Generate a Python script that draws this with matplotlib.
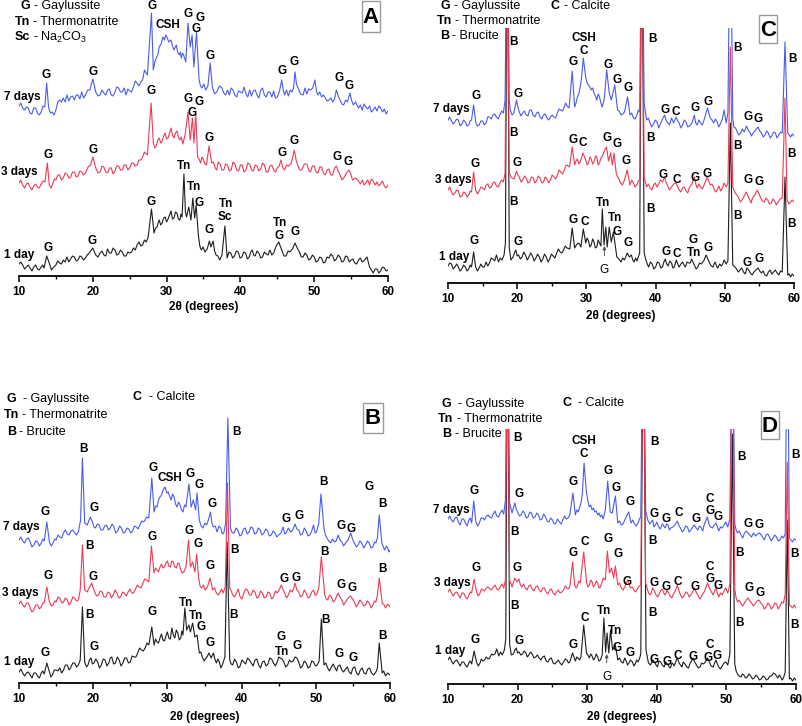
import matplotlib
matplotlib.use("Agg")
import matplotlib.pyplot as plt
from matplotlib.patches import Rectangle
from matplotlib.ticker import MultipleLocator

plt.rcParams["font.family"] = ["Liberation Sans", "DejaVu Sans"]
plt.rcParams["mathtext.fontset"] = "custom"
plt.rcParams["mathtext.rm"] = "Liberation Sans"
plt.rcParams["mathtext.it"] = "Liberation Sans:italic"
plt.rcParams["mathtext.bf"] = "Liberation Sans:bold"

W, H = 803, 726

# ---- XRD traces: (2theta, stacked intensity in a.u.) ----
# Panel A
a_7d = [(10.0,170),(10.25,173),(10.5,168),(10.75,166),(11.0,169),(11.25,168),(11.5,163),(11.75,162),(12.0,168),(12.25,168),(12.5,163),(12.75,161),(13.0,164),(13.25,170),(13.5,169),(13.75,193),(14.0,169),(14.25,163),(14.5,164),(14.75,161),(15.0,166),(15.25,174),(15.5,176),(15.75,174),(16.0,178),(16.25,174),(16.5,181),(16.75,175),(17.0,179),(17.25,180),(17.5,176),(17.75,181),(18.0,181),(18.25,177),(18.5,184),(18.75,178),(19.0,181),(19.3,186),(19.6,186),(20.0,197),(20.4,184),(20.7,180),(21.0,181),(21.25,186),(21.5,183),(21.75,181),(22.0,186),(22.25,187),(22.5,181),(22.75,180),(23.0,184),(23.25,189),(23.5,188),(23.75,184),(24.0,184),(24.25,188),(24.5,181),(24.75,187),(25.0,185),(25.25,184),(25.5,189),(25.75,195),(26.0,193),(26.25,190),(26.5,194),(26.75,196),(27.0,206),(27.4,201),(27.95,263),(28.2,206),(28.4,214),(28.6,218),(28.8,221),(29.0,229),(29.25,232),(29.5,239),(29.7,236),(29.9,241),(30.1,238),(30.3,234),(30.6,236),(30.8,230),(31.0,226),(31.3,231),(31.5,224),(31.7,221),(31.85,224),(32.0,218),(32.15,223),(32.3,221),(32.6,214),(32.9,253),(33.2,229),(33.45,241),(33.7,209),(34.05,244),(34.4,196),(34.6,190),(34.8,188),(35.05,192),(35.3,186),(35.6,190),(35.9,213),(36.2,189),(36.5,182),(36.8,184),(37.15,190),(37.5,188),(37.75,183),(38.0,181),(38.25,186),(38.5,181),(38.75,188),(39.0,186),(39.25,181),(39.5,179),(39.75,185),(40.0,184),(40.25,183),(40.5,189),(40.75,182),(41.0,179),(41.25,186),(41.5,180),(41.75,185),(42.0,186),(42.25,181),(42.5,178),(42.75,186),(43.0,188),(43.25,181),(43.5,179),(43.75,184),(44.0,184),(44.25,179),(44.5,185),(44.75,178),(45.0,179),(45.3,185),(45.6,196),(45.8,186),(46.0,181),(46.25,186),(46.5,180),(46.75,186),(47.0,184),(47.2,188),(47.4,204),(47.6,192),(47.8,188),(48.15,182),(48.5,181),(48.75,188),(49.0,182),(49.25,187),(49.5,186),(49.8,188),(50.1,196),(50.3,185),(50.5,181),(50.75,184),(51.0,179),(51.25,181),(51.5,178),(51.75,175),(52.0,176),(52.25,178),(52.5,174),(52.75,177),(53.0,186),(53.25,180),(53.5,176),(53.75,172),(54.0,171),(54.25,176),(54.5,174),(54.85,183),(55.05,176),(55.3,171),(55.6,174),(56.0,168),(56.25,171),(56.5,166),(56.75,172),(57.0,169),(57.25,167),(57.5,170),(57.75,164),(58.0,166),(58.25,169),(58.5,165),(58.75,170),(59.0,168),(59.25,164),(59.5,167),(59.75,162),(60.0,165)]
a_3d = [(10.0,93),(10.25,96),(10.5,91),(10.75,88),(11.0,92),(11.25,93),(11.5,89),(11.75,86),(12.0,90),(12.25,92),(12.5,89),(12.75,88),(13.0,92),(13.25,95),(13.5,94),(13.85,113),(14.1,91),(14.35,88),(14.6,93),(14.8,97),(15.0,96),(15.25,101),(15.5,101),(15.75,96),(16.0,98),(16.25,103),(16.5,102),(16.75,98),(17.0,99),(17.25,104),(17.5,104),(17.75,99),(18.0,100),(18.25,105),(18.5,104),(18.75,101),(19.0,103),(19.35,109),(19.7,111),(20.0,119),(20.4,108),(20.7,103),(21.0,104),(21.25,110),(21.5,109),(21.75,104),(22.0,103),(22.25,108),(22.5,108),(22.75,102),(23.0,105),(23.25,110),(23.5,110),(23.75,106),(24.0,106),(24.25,111),(24.5,111),(24.75,106),(25.0,108),(25.25,113),(25.5,113),(25.75,110),(26.0,111),(26.25,116),(26.5,116),(26.75,119),(27.0,124),(27.4,121),(27.9,173),(28.2,133),(28.4,128),(28.6,130),(28.8,136),(29.0,138),(29.2,133),(29.4,135),(29.6,140),(29.8,143),(30.0,137),(30.2,138),(30.4,143),(30.6,148),(30.8,141),(31.0,138),(31.2,143),(31.4,145),(31.6,139),(31.8,136),(32.0,139),(32.2,132),(32.5,141),(32.9,164),(33.2,136),(33.5,158),(33.7,133),(33.95,162),(34.2,119),(34.4,117),(34.6,113),(34.8,119),(35.0,116),(35.2,112),(35.4,111),(35.75,130),(36.1,113),(36.35,114),(36.6,108),(36.8,106),(37.0,114),(37.25,112),(37.5,106),(37.75,106),(38.0,112),(38.25,111),(38.5,105),(38.75,106),(39.0,114),(39.25,112),(39.5,106),(39.75,105),(40.0,111),(40.25,111),(40.5,104),(40.75,106),(41.0,113),(41.25,112),(41.5,106),(41.75,105),(42.0,111),(42.25,110),(42.5,105),(42.75,107),(43.0,113),(43.25,111),(43.5,104),(43.75,104),(44.0,110),(44.25,111),(44.5,106),(44.75,104),(45.0,108),(45.25,110),(45.5,116),(45.75,108),(46.0,106),(46.25,111),(46.5,110),(46.9,113),(47.3,126),(47.55,116),(47.8,110),(48.05,106),(48.3,106),(48.65,112),(49.0,112),(49.25,106),(49.5,104),(49.75,110),(50.0,110),(50.25,104),(50.5,103),(50.75,109),(51.0,109),(51.25,103),(51.5,101),(51.75,106),(52.0,107),(52.25,101),(52.5,101),(52.75,108),(53.0,110),(53.25,105),(53.5,101),(53.75,96),(54.0,98),(54.35,103),(54.7,106),(54.95,102),(55.2,96),(55.6,98),(56.0,95),(56.25,92),(56.5,96),(56.75,91),(57.0,93),(57.25,96),(57.5,91),(57.75,97),(58.0,95),(58.25,91),(58.5,94),(58.75,90),(59.0,92),(59.25,95),(59.5,90),(59.75,88),(60.0,91)]
a_1d = [(10.0,12),(10.25,14),(10.5,11),(10.75,7),(11.0,9),(11.25,11),(11.5,8),(11.75,5),(12.0,9),(12.25,11),(12.5,7),(12.75,6),(13.0,9),(13.2,11),(13.4,8),(13.75,20),(14.1,13),(14.4,6),(14.7,9),(15.0,11),(15.25,15),(15.5,13),(15.75,12),(16.0,16),(16.25,14),(16.5,19),(16.75,14),(17.0,17),(17.25,20),(17.5,19),(17.75,15),(18.0,16),(18.25,20),(18.5,19),(18.75,16),(19.0,18),(19.25,21),(19.5,23),(20.0,28),(20.4,21),(20.7,19),(21.0,23),(21.25,25),(21.5,21),(21.75,20),(22.0,27),(22.25,23),(22.5,23),(22.75,28),(23.0,26),(23.25,21),(23.5,22),(23.75,26),(24.0,24),(24.25,20),(24.5,20),(24.75,24),(25.0,23),(25.25,24),(25.5,28),(25.75,26),(26.0,31),(26.25,34),(26.5,30),(26.75,31),(27.0,36),(27.25,34),(27.5,39),(27.95,67),(28.3,43),(28.5,48),(28.7,49),(28.85,53),(29.0,56),(29.2,51),(29.4,53),(29.6,58),(29.8,59),(30.0,54),(30.2,57),(30.4,61),(30.6,65),(30.8,57),(31.0,58),(31.2,64),(31.4,63),(31.6,57),(31.8,56),(31.95,62),(32.1,59),(32.35,102),(32.55,64),(32.7,59),(33.0,69),(33.3,56),(33.55,78),(33.8,58),(34.0,71),(34.3,41),(34.5,30),(34.7,26),(34.95,29),(35.2,24),(35.5,27),(35.8,35),(36.0,29),(36.3,35),(36.5,25),(36.7,21),(36.95,20),(37.2,16),(37.5,21),(37.9,50),(38.2,18),(38.45,24),(38.7,23),(38.95,18),(39.2,20),(39.45,25),(39.7,24),(39.95,18),(40.2,19),(40.45,24),(40.7,23),(40.95,17),(41.2,19),(41.4,24),(41.6,26),(41.8,21),(42.0,20),(42.25,25),(42.5,23),(42.75,18),(43.0,19),(43.25,24),(43.5,22),(43.75,21),(44.0,26),(44.25,21),(44.5,23),(44.85,30),(45.2,34),(45.4,30),(45.6,26),(45.9,20),(46.2,20),(46.45,25),(46.7,24),(47.05,27),(47.4,33),(47.7,28),(48.0,24),(48.25,19),(48.5,19),(48.75,23),(49.0,21),(49.25,16),(49.5,17),(49.75,21),(50.0,19),(50.25,14),(50.5,15),(50.75,19),(51.0,18),(51.25,13),(51.5,14),(51.75,19),(52.0,18),(52.25,22),(52.5,20),(52.75,15),(53.0,17),(53.25,21),(53.5,19),(53.75,14),(54.0,15),(54.25,20),(54.5,19),(54.75,14),(55.0,16),(55.25,17),(55.5,13),(55.75,12),(56.0,16),(56.25,18),(56.5,14),(56.85,16),(57.15,19),(57.5,9),(58.0,3),(58.25,7),(58.5,7),(58.75,3),(59.0,5),(59.25,9),(59.5,8),(59.75,5),(60.0,6)]

# Panel B
b_7d = [(10.0,143),(10.25,146),(10.5,142),(10.75,140),(11.0,144),(11.25,145),(11.5,141),(11.75,136),(12.0,138),(12.25,142),(12.5,141),(12.75,137),(13.0,140),(13.2,144),(13.4,142),(13.75,161),(14.1,141),(14.35,137),(14.6,140),(14.8,144),(15.0,143),(15.25,148),(15.5,146),(15.75,145),(16.0,150),(16.25,153),(16.5,149),(16.75,148),(17.0,152),(17.25,153),(17.5,150),(17.75,148),(18.0,151),(18.3,163),(18.55,225),(18.85,160),(19.2,158),(19.6,166),(19.9,161),(20.1,156),(20.3,155),(20.55,159),(20.8,158),(21.05,153),(21.3,153),(21.55,157),(21.8,158),(22.05,153),(22.3,155),(22.55,159),(22.8,156),(23.05,150),(23.3,152),(23.55,157),(23.8,155),(24.05,150),(24.3,151),(24.55,155),(24.8,154),(25.05,150),(25.3,152),(25.55,157),(25.8,156),(26.05,154),(26.3,158),(26.55,162),(26.8,161),(27.0,163),(27.2,166),(27.5,165),(27.9,205),(28.2,171),(28.4,177),(28.6,176),(28.8,183),(29.0,186),(29.2,188),(29.4,193),(29.7,196),(29.9,190),(30.1,191),(30.3,187),(30.5,183),(30.7,189),(30.9,186),(31.1,179),(31.3,176),(31.5,181),(31.7,178),(31.9,173),(32.1,171),(32.3,178),(32.5,176),(32.9,199),(33.2,176),(33.5,183),(33.8,173),(34.0,190),(34.3,163),(34.55,157),(34.8,155),(35.05,160),(35.3,158),(35.55,164),(35.8,171),(36.0,160),(36.2,156),(36.45,157),(36.7,151),(36.95,157),(37.2,155),(37.4,149),(37.6,150),(37.85,160),(38.15,265),(38.5,155),(38.75,150),(39.0,150),(39.25,155),(39.5,153),(39.75,147),(40.0,148),(40.25,154),(40.5,155),(40.75,149),(41.0,151),(41.25,156),(41.5,155),(41.75,149),(42.0,150),(42.25,155),(42.5,153),(42.75,148),(43.0,150),(43.25,154),(43.5,152),(43.75,147),(44.0,148),(44.25,152),(44.5,150),(44.75,146),(45.0,148),(45.3,150),(45.6,156),(45.8,149),(46.0,150),(46.3,155),(46.6,151),(46.9,153),(47.2,159),(47.45,154),(47.7,153),(47.95,148),(48.2,149),(48.45,155),(48.7,152),(48.95,147),(49.2,148),(49.45,152),(49.7,158),(49.9,150),(50.1,151),(50.4,160),(50.7,189),(51.1,155),(51.3,148),(51.5,145),(51.75,142),(52.0,140),(52.25,144),(52.5,141),(52.75,142),(53.0,148),(53.25,143),(53.5,141),(53.75,137),(54.0,140),(54.35,143),(54.7,150),(54.95,144),(55.2,140),(55.45,136),(55.7,138),(55.95,142),(56.2,140),(56.45,135),(56.7,138),(56.95,142),(57.2,140),(57.45,135),(57.7,136),(57.9,141),(58.1,140),(58.3,145),(58.55,168),(58.9,140),(59.1,136),(59.3,133),(59.5,137),(59.7,135),(59.85,131),(60.0,133)]
b_3d = [(10.0,79),(10.25,82),(10.5,78),(10.75,76),(11.0,80),(11.25,80),(11.5,75),(11.75,71),(12.0,73),(12.25,78),(12.5,78),(12.75,74),(13.0,76),(13.2,80),(13.4,80),(13.75,96),(14.1,81),(14.35,77),(14.6,78),(14.8,82),(15.0,81),(15.25,86),(15.5,85),(15.75,80),(16.0,81),(16.25,85),(16.5,83),(16.75,78),(17.0,81),(17.25,86),(17.5,85),(17.75,82),(18.0,83),(18.25,93),(18.55,138),(18.85,93),(19.2,91),(19.5,96),(19.8,100),(20.0,95),(20.2,91),(20.45,87),(20.7,88),(20.95,92),(21.2,91),(21.45,86),(21.7,86),(21.95,91),(22.2,90),(22.45,85),(22.7,88),(22.95,93),(23.2,90),(23.45,85),(23.7,86),(23.95,91),(24.2,90),(24.45,87),(24.7,91),(24.95,94),(25.2,90),(25.45,90),(25.7,94),(25.95,98),(26.2,96),(26.45,95),(26.7,100),(26.95,104),(27.2,103),(27.5,101),(27.85,137),(28.2,110),(28.4,115),(28.6,113),(28.8,111),(29.0,116),(29.2,119),(29.4,115),(29.6,116),(29.8,120),(30.0,122),(30.2,117),(30.4,116),(30.6,122),(30.8,121),(31.0,116),(31.2,115),(31.4,120),(31.6,119),(31.8,113),(32.0,110),(32.2,111),(32.5,116),(32.85,143),(33.1,116),(33.4,121),(33.7,111),(33.95,129),(34.2,106),(34.4,97),(34.6,95),(34.85,98),(35.1,93),(35.4,96),(35.75,105),(36.1,93),(36.35,95),(36.6,90),(36.85,88),(37.1,91),(37.3,94),(37.5,90),(37.8,96),(38.1,200),(38.4,95),(38.6,92),(38.8,88),(39.05,86),(39.3,90),(39.55,94),(39.8,86),(40.05,84),(40.3,90),(40.55,94),(40.8,93),(41.05,88),(41.3,88),(41.55,93),(41.8,91),(42.05,85),(42.3,86),(42.55,92),(42.8,90),(43.05,85),(43.3,86),(43.55,91),(43.8,90),(44.05,84),(44.3,86),(44.55,92),(44.8,90),(45.05,93),(45.35,98),(45.6,93),(45.8,90),(46.05,85),(46.3,88),(46.55,93),(46.8,91),(47.0,94),(47.2,100),(47.45,93),(47.7,91),(47.95,86),(48.2,88),(48.45,93),(48.7,90),(48.95,85),(49.2,86),(49.45,91),(49.7,93),(49.9,88),(50.1,88),(50.4,95),(50.75,126),(51.2,88),(51.4,84),(51.6,83),(51.85,88),(52.1,86),(52.35,81),(52.6,83),(52.8,87),(53.0,90),(53.25,86),(53.5,83),(53.75,78),(54.0,81),(54.35,85),(54.7,87),(54.95,84),(55.2,81),(55.45,76),(55.7,79),(55.95,83),(56.2,81),(56.45,77),(56.7,78),(56.95,82),(57.2,80),(57.45,75),(57.7,78),(57.9,82),(58.1,81),(58.3,88),(58.55,105),(58.95,80),(59.2,78),(59.4,75),(59.7,79),(60.0,76)]
b_1d = [(10.0,11),(10.25,14),(10.5,10),(10.75,7),(11.0,10),(11.25,11),(11.5,8),(11.75,5),(12.0,10),(12.25,10),(12.5,7),(12.75,5),(13.0,10),(13.2,12),(13.4,9),(13.75,20),(14.1,11),(14.3,6),(14.5,8),(14.75,13),(15.0,13),(15.25,12),(15.5,15),(15.75,10),(16.0,13),(16.25,18),(16.5,18),(16.75,13),(17.0,16),(17.25,20),(17.5,20),(17.75,16),(18.0,18),(18.25,23),(18.55,76),(18.85,21),(19.1,16),(19.3,18),(19.5,23),(19.7,25),(19.9,19),(20.1,20),(20.35,24),(20.6,21),(20.85,15),(21.1,18),(21.35,24),(21.6,23),(21.85,17),(22.1,20),(22.3,25),(22.5,26),(22.75,19),(23.0,20),(23.25,26),(23.5,23),(23.75,17),(24.0,20),(24.25,25),(24.5,25),(24.75,20),(25.0,21),(25.25,27),(25.5,26),(25.75,26),(26.0,30),(26.25,35),(26.5,33),(26.75,32),(27.0,35),(27.25,40),(27.5,38),(27.9,56),(28.2,38),(28.4,44),(28.6,41),(28.8,40),(29.0,45),(29.2,49),(29.4,43),(29.6,42),(29.8,47),(30.0,51),(30.2,45),(30.4,44),(30.6,55),(30.8,48),(31.0,45),(31.2,53),(31.4,50),(31.6,43),(31.8,45),(31.95,52),(32.1,48),(32.35,75),(32.6,53),(32.9,58),(33.1,51),(33.4,60),(33.7,46),(34.0,48),(34.3,30),(34.5,31),(34.7,26),(34.95,22),(35.2,25),(35.4,27),(35.6,30),(35.9,25),(36.2,30),(36.4,24),(36.6,20),(36.8,24),(37.0,21),(37.2,15),(37.4,18),(37.75,26),(38.05,141),(38.4,23),(38.6,19),(38.8,18),(39.05,24),(39.3,21),(39.55,15),(39.8,17),(40.05,23),(40.3,21),(40.55,19),(40.8,25),(41.05,23),(41.3,20),(41.55,17),(41.8,23),(42.05,24),(42.3,18),(42.55,15),(42.8,21),(43.05,22),(43.3,17),(43.55,19),(43.8,25),(44.05,24),(44.3,20),(44.55,17),(44.8,21),(45.0,26),(45.2,25),(45.45,24),(45.7,21),(45.95,16),(46.2,18),(46.45,23),(46.7,21),(46.95,22),(47.2,26),(47.45,25),(47.7,21),(47.95,15),(48.2,17),(48.45,22),(48.7,20),(48.95,15),(49.2,16),(49.45,22),(49.7,21),(49.95,17),(50.2,18),(50.45,22),(50.75,64),(51.1,18),(51.35,20),(51.6,15),(51.85,12),(52.1,16),(52.35,19),(52.6,15),(52.8,12),(53.0,17),(53.25,18),(53.5,13),(53.75,11),(54.0,14),(54.25,16),(54.5,11),(54.75,9),(55.0,15),(55.25,16),(55.5,10),(55.75,8),(56.0,13),(56.25,15),(56.5,10),(56.75,9),(57.0,14),(57.25,15),(57.5,10),(57.8,8),(58.1,11),(58.3,15),(58.55,40),(58.95,10),(59.15,12),(59.4,7),(59.7,10),(60.0,8)]

# Panel C (brucite peaks run off the top of the frame)
c_7d = [(10.0,163),(10.25,166),(10.5,162),(10.75,159),(11.0,161),(11.25,164),(11.5,163),(11.75,157),(12.0,159),(12.25,163),(12.5,161),(12.75,157),(13.0,158),(13.2,162),(13.4,163),(13.7,178),(14.0,161),(14.25,157),(14.5,158),(14.75,162),(15.0,162),(15.25,158),(15.5,160),(15.75,166),(16.0,166),(16.25,164),(16.5,168),(16.75,169),(17.0,166),(17.25,164),(17.5,168),(17.75,172),(18.0,170),(18.25,183),(18.55,400),(18.85,183),(19.0,173),(19.25,168),(19.5,170),(19.7,176),(19.9,183),(20.1,176),(20.3,171),(20.55,167),(20.8,170),(21.05,172),(21.3,168),(21.55,167),(21.8,173),(22.05,173),(22.3,168),(22.55,166),(22.8,170),(23.05,171),(23.3,166),(23.55,164),(23.8,168),(24.05,169),(24.3,165),(24.55,163),(24.8,166),(25.05,168),(25.3,166),(25.55,165),(25.8,170),(26.05,174),(26.3,173),(26.55,172),(26.8,176),(27.0,180),(27.2,177),(27.5,175),(27.95,212),(28.3,176),(28.5,180),(28.7,186),(28.9,189),(29.1,196),(29.3,205),(29.55,225),(29.9,206),(30.1,200),(30.3,198),(30.5,196),(30.7,193),(30.9,195),(31.1,190),(31.3,187),(31.5,183),(31.7,189),(31.9,186),(32.1,180),(32.3,176),(32.6,185),(32.93,213),(33.3,190),(33.6,183),(34.1,198),(34.5,173),(34.75,172),(35.0,168),(35.25,169),(35.5,171),(35.95,186),(36.3,168),(36.55,170),(36.8,165),(37.05,164),(37.3,168),(37.5,173),(37.7,171),(38.0,400),(38.35,180),(38.7,163),(38.95,165),(39.2,160),(39.45,156),(39.7,159),(39.95,163),(40.2,161),(40.45,155),(40.7,159),(41.0,164),(41.3,168),(41.5,163),(41.7,161),(42.0,158),(42.3,165),(42.6,160),(42.95,166),(43.2,162),(43.4,160),(43.65,155),(43.9,158),(44.15,163),(44.4,161),(44.65,156),(44.9,157),(45.25,160),(45.6,168),(45.8,160),(46.0,158),(46.25,163),(46.5,160),(46.75,158),(47.0,163),(47.5,175),(47.9,165),(48.15,163),(48.4,160),(48.65,164),(48.9,161),(49.15,156),(49.4,160),(49.65,164),(49.9,173),(50.2,160),(50.45,170),(50.8,400),(51.15,165),(51.3,156),(51.55,155),(51.8,151),(52.05,148),(52.3,150),(52.55,154),(52.8,151),(53.15,157),(53.35,153),(53.6,151),(53.85,147),(54.1,150),(54.45,153),(54.8,156),(55.05,152),(55.3,150),(55.55,146),(55.8,148),(56.05,152),(56.3,150),(56.55,145),(56.8,147),(57.05,151),(57.3,150),(57.55,145),(57.8,148),(58.05,151),(58.3,150),(58.7,241),(59.1,150),(59.3,148),(59.5,146),(59.75,149),(60.0,147)]
c_3d = [(10.0,93),(10.25,96),(10.5,91),(10.75,88),(11.0,90),(11.25,93),(11.5,92),(11.75,86),(12.0,87),(12.25,91),(12.5,90),(12.75,86),(13.0,88),(13.2,92),(13.4,91),(13.7,111),(14.0,93),(14.25,89),(14.5,92),(14.75,96),(15.0,95),(15.25,93),(15.5,98),(15.75,99),(16.0,95),(16.25,96),(16.5,100),(16.75,101),(17.0,97),(17.25,96),(17.5,100),(17.75,103),(18.0,101),(18.25,110),(18.55,400),(18.85,110),(19.2,105),(19.55,104),(19.9,112),(20.1,108),(20.3,106),(20.55,101),(20.8,103),(21.05,107),(21.3,105),(21.55,100),(21.8,101),(22.05,106),(22.3,105),(22.55,100),(22.8,102),(23.05,107),(23.3,105),(23.55,100),(23.8,101),(24.05,106),(24.3,104),(24.55,100),(24.8,103),(25.05,108),(25.3,106),(25.55,104),(25.8,108),(26.05,113),(26.3,111),(26.55,109),(26.8,113),(27.0,117),(27.2,118),(27.55,116),(27.95,136),(28.3,118),(28.5,122),(28.7,124),(28.9,119),(29.1,121),(29.5,130),(29.9,123),(30.1,118),(30.3,120),(30.5,126),(30.7,124),(30.9,119),(31.1,121),(31.3,127),(31.5,126),(31.7,118),(31.9,120),(32.1,125),(32.3,127),(32.6,132),(32.9,136),(33.2,122),(33.5,130),(33.75,118),(34.0,130),(34.3,110),(34.5,106),(34.7,104),(34.95,100),(35.2,98),(35.5,103),(35.9,113),(36.3,98),(36.55,103),(36.8,100),(37.05,96),(37.3,98),(37.5,102),(37.7,103),(38.0,400),(38.35,106),(38.7,96),(38.95,99),(39.2,95),(39.45,93),(39.7,98),(39.95,100),(40.2,96),(40.45,99),(40.7,103),(41.0,101),(41.3,106),(41.5,101),(41.7,98),(42.0,93),(42.3,96),(42.6,99),(42.95,100),(43.2,96),(43.4,93),(43.65,91),(43.9,95),(44.15,96),(44.4,92),(44.65,90),(44.9,96),(45.25,99),(45.6,106),(45.8,99),(46.0,95),(46.25,99),(46.5,96),(46.75,94),(47.0,98),(47.45,106),(47.9,98),(48.15,99),(48.4,95),(48.65,91),(48.9,93),(49.15,97),(49.4,92),(49.65,95),(49.9,100),(50.2,96),(50.45,100),(50.8,236),(51.15,96),(51.3,93),(51.5,90),(51.75,88),(52.0,85),(52.25,81),(52.5,83),(52.8,87),(53.1,91),(53.35,87),(53.6,83),(53.8,80),(54.0,85),(54.35,88),(54.7,93),(54.95,89),(55.2,85),(55.45,82),(55.7,81),(55.95,85),(56.2,83),(56.45,79),(56.7,80),(56.95,84),(57.2,82),(57.45,78),(57.7,81),(58.0,84),(58.3,85),(58.7,185),(59.0,83),(59.25,79),(59.5,81),(59.75,83),(60.0,81)]
c_1d = [(10.0,17),(10.25,20),(10.5,19),(10.75,14),(11.0,16),(11.25,19),(11.5,16),(11.75,12),(12.0,14),(12.25,18),(12.5,16),(12.75,12),(13.0,14),(13.2,18),(13.4,16),(13.7,31),(14.0,16),(14.25,12),(14.5,15),(14.75,19),(15.0,16),(15.25,16),(15.5,21),(15.75,17),(16.0,20),(16.25,25),(16.5,24),(16.75,22),(17.0,28),(17.3,21),(17.55,25),(17.8,23),(18.1,28),(18.3,40),(18.55,400),(18.85,35),(19.1,23),(19.4,26),(19.6,30),(19.8,33),(20.0,27),(20.2,28),(20.45,24),(20.7,26),(20.95,31),(21.2,28),(21.45,23),(21.7,26),(21.95,30),(22.2,27),(22.45,22),(22.7,25),(22.95,29),(23.2,26),(23.45,21),(23.7,24),(23.95,29),(24.2,26),(24.45,21),(24.7,24),(24.95,29),(25.2,27),(25.45,25),(25.7,30),(25.95,34),(26.2,31),(26.45,30),(26.7,33),(26.95,37),(27.2,35),(27.6,34),(27.95,55),(28.3,35),(28.55,38),(28.8,40),(29.0,39),(29.2,36),(29.55,54),(29.9,40),(30.1,45),(30.3,42),(30.5,36),(30.7,38),(30.9,44),(31.1,41),(31.3,35),(31.5,36),(31.7,43),(31.9,40),(32.1,37),(32.3,74),(32.55,38),(32.8,56),(33.0,36),(33.3,56),(33.6,41),(33.9,51),(34.1,41),(34.4,26),(34.7,24),(35.0,21),(35.25,25),(35.5,23),(35.9,30),(36.2,26),(36.5,28),(36.7,23),(36.9,21),(37.1,25),(37.3,22),(37.5,26),(37.7,30),(38.0,400),(38.35,30),(38.6,23),(38.8,19),(39.0,16),(39.25,21),(39.5,19),(39.75,14),(40.0,16),(40.25,21),(40.5,20),(40.75,15),(41.0,16),(41.2,21),(41.4,24),(41.6,19),(41.8,17),(42.05,22),(42.3,20),(42.5,15),(42.7,16),(43.0,23),(43.2,19),(43.4,16),(43.65,19),(43.9,21),(44.1,18),(44.3,16),(44.55,21),(44.8,20),(45.0,20),(45.2,24),(45.4,21),(45.6,18),(45.85,14),(46.1,16),(46.35,20),(46.6,19),(46.95,22),(47.3,28),(47.55,24),(47.8,20),(48.05,17),(48.3,16),(48.45,19),(48.6,21),(48.8,17),(49.0,15),(49.25,19),(49.5,17),(49.7,19),(49.9,23),(50.2,19),(50.45,22),(50.8,160),(51.15,18),(51.45,16),(51.7,14),(51.95,11),(52.2,13),(52.45,15),(52.7,11),(52.95,9),(53.2,15),(53.45,13),(53.7,10),(53.95,8),(54.2,11),(54.5,13),(54.8,15),(55.05,12),(55.3,10),(55.55,12),(55.8,8),(56.05,7),(56.3,11),(56.55,13),(56.8,9),(57.05,11),(57.3,13),(57.55,10),(57.8,8),(58.05,12),(58.3,11),(58.7,106),(59.1,8),(59.3,9),(59.5,6),(59.75,9),(60.0,7)]

# Panel D
d_7d = [(10.0,165),(10.25,168),(10.5,164),(10.75,162),(11.0,166),(11.25,167),(11.5,162),(11.75,159),(12.0,165),(12.25,165),(12.5,161),(12.75,158),(13.0,164),(13.2,166),(13.4,161),(13.7,183),(14.0,162),(14.25,158),(14.5,161),(14.75,166),(15.0,166),(15.25,164),(15.5,168),(15.75,169),(16.0,167),(16.25,166),(16.5,170),(16.75,173),(17.0,168),(17.25,167),(17.5,171),(17.75,174),(18.0,170),(18.25,184),(18.55,400),(18.85,181),(19.2,171),(19.4,176),(19.6,181),(19.8,175),(20.0,172),(20.25,168),(20.5,169),(20.75,173),(21.0,171),(21.25,166),(21.5,167),(21.75,172),(22.0,171),(22.25,166),(22.5,167),(22.75,171),(23.0,169),(23.25,164),(23.5,165),(23.75,170),(24.0,167),(24.25,163),(24.5,162),(24.75,166),(25.0,164),(25.25,160),(25.5,161),(25.75,165),(26.0,162),(26.25,160),(26.5,164),(26.75,168),(27.0,165),(27.25,166),(27.5,169),(27.95,191),(28.3,169),(28.5,174),(28.7,172),(28.9,176),(29.1,181),(29.3,190),(29.55,221),(29.9,191),(30.1,183),(30.3,177),(30.5,179),(30.7,174),(30.9,176),(31.1,172),(31.3,173),(31.5,169),(31.7,171),(31.9,167),(32.1,169),(32.3,165),(32.6,174),(32.95,203),(33.3,172),(33.6,171),(34.05,188),(34.4,161),(34.65,163),(34.9,159),(35.15,160),(35.4,164),(35.95,172),(36.3,161),(36.55,164),(36.8,160),(37.05,158),(37.3,161),(37.5,165),(37.7,167),(38.05,400),(38.4,174),(38.7,164),(39.0,160),(39.4,164),(39.6,157),(39.8,159),(40.0,162),(40.2,158),(40.5,155),(40.8,160),(41.0,158),(41.2,156),(41.4,160),(41.6,159),(41.8,154),(42.0,156),(42.3,157),(42.6,159),(42.95,163),(43.2,158),(43.4,156),(43.65,152),(43.9,154),(44.15,158),(44.4,157),(44.65,152),(44.9,154),(45.15,157),(45.4,159),(45.65,156),(45.9,154),(46.15,158),(46.4,156),(46.6,153),(46.8,159),(47.25,167),(47.5,160),(47.7,157),(48.0,156),(48.25,159),(48.5,161),(48.7,157),(48.9,153),(49.15,157),(49.4,156),(49.65,159),(49.9,162),(50.2,157),(50.5,165),(50.85,400),(51.2,160),(51.4,154),(51.6,151),(51.85,153),(52.1,149),(52.35,146),(52.6,151),(52.85,153),(53.1,151),(53.35,149),(53.6,147),(53.9,151),(54.2,148),(54.5,150),(54.75,151),(55.0,149),(55.2,147),(55.45,144),(55.7,149),(55.95,150),(56.2,147),(56.45,143),(56.7,146),(56.95,149),(57.2,147),(57.45,143),(57.7,144),(57.95,148),(58.2,146),(58.45,150),(58.75,400),(59.05,146),(59.25,144),(59.5,142),(59.75,145),(60.0,144)]
d_3d = [(10.0,92),(10.25,95),(10.5,91),(10.75,88),(11.0,91),(11.25,92),(11.5,89),(11.75,86),(12.0,91),(12.25,91),(12.5,87),(12.75,85),(13.0,89),(13.2,92),(13.4,91),(13.75,105),(14.1,92),(14.35,88),(14.6,91),(14.8,95),(15.0,94),(15.25,93),(15.5,96),(15.75,97),(16.0,95),(16.25,94),(16.5,97),(16.75,99),(17.0,95),(17.25,94),(17.5,97),(17.75,100),(18.0,96),(18.25,104),(18.55,400),(18.85,104),(19.2,97),(19.6,106),(19.9,102),(20.2,105),(20.4,99),(20.6,97),(20.85,100),(21.1,96),(21.35,94),(21.6,98),(21.85,99),(22.1,95),(22.35,93),(22.6,97),(22.85,98),(23.1,94),(23.35,92),(23.6,96),(23.85,96),(24.1,92),(24.35,90),(24.6,94),(24.85,95),(25.1,91),(25.35,89),(25.6,92),(25.85,94),(26.1,91),(26.35,92),(26.6,94),(26.85,98),(27.1,96),(27.3,95),(27.5,97),(27.9,122),(28.2,99),(28.4,96),(28.6,98),(28.8,103),(29.0,101),(29.5,132),(29.9,102),(30.1,97),(30.3,99),(30.5,104),(30.7,102),(30.9,97),(31.1,99),(31.3,103),(31.5,101),(31.7,96),(31.9,97),(32.1,101),(32.3,106),(32.6,104),(32.9,133),(33.2,111),(33.5,116),(33.8,106),(34.05,118),(34.4,99),(34.65,101),(34.9,96),(35.15,94),(35.4,97),(35.8,104),(36.2,96),(36.45,97),(36.7,94),(36.95,92),(37.2,95),(37.45,98),(37.7,99),(38.05,400),(38.4,101),(38.8,91),(39.1,89),(39.4,96),(39.65,93),(39.9,89),(40.15,87),(40.4,91),(40.6,94),(40.8,95),(41.0,91),(41.2,89),(41.5,94),(41.7,91),(41.9,88),(42.15,86),(42.4,90),(42.7,94),(42.95,99),(43.2,93),(43.4,89),(43.65,86),(43.9,88),(44.15,92),(44.4,91),(44.65,87),(44.9,89),(45.15,92),(45.4,96),(45.65,92),(45.9,89),(46.15,85),(46.4,87),(46.6,90),(46.8,92),(47.3,101),(47.5,97),(47.7,94),(48.1,89),(48.3,93),(48.5,96),(48.7,91),(48.9,87),(49.15,91),(49.4,89),(49.65,93),(49.9,96),(50.2,91),(50.5,100),(50.85,400),(51.2,95),(51.4,86),(51.6,82),(51.85,84),(52.1,80),(52.35,78),(52.6,81),(52.85,84),(53.1,86),(53.35,83),(53.6,81),(53.85,78),(54.1,80),(54.4,83),(54.7,84),(54.95,81),(55.2,79),(55.45,75),(55.7,77),(55.95,81),(56.2,79),(56.45,75),(56.7,77),(56.95,81),(57.2,80),(57.45,75),(57.7,78),(57.95,82),(58.2,81),(58.45,90),(58.75,222),(59.05,79),(59.25,78),(59.5,76),(59.75,79),(60.0,76)]
d_1d = [(10.0,24),(10.25,27),(10.5,23),(10.75,20),(11.0,23),(11.25,24),(11.5,21),(11.75,18),(12.0,22),(12.25,22),(12.5,19),(12.75,17),(13.0,21),(13.2,23),(13.4,20),(13.75,33),(14.1,22),(14.35,18),(14.6,21),(14.8,25),(15.0,23),(15.25,24),(15.5,27),(15.75,25),(16.0,26),(16.25,30),(16.5,29),(16.75,30),(17.0,35),(17.3,28),(17.55,32),(17.8,29),(18.1,34),(18.3,45),(18.55,400),(18.85,40),(19.1,29),(19.4,30),(19.6,34),(19.8,36),(20.0,31),(20.2,32),(20.45,29),(20.7,30),(20.95,33),(21.2,31),(21.4,27),(21.6,29),(21.85,32),(22.1,30),(22.35,26),(22.6,27),(22.85,29),(23.1,26),(23.35,24),(23.6,27),(23.85,28),(24.1,23),(24.35,22),(24.6,25),(24.85,26),(25.1,21),(25.35,20),(25.6,22),(25.85,24),(26.1,21),(26.35,19),(26.6,22),(26.85,25),(27.1,24),(27.3,21),(27.5,22),(27.9,31),(28.3,23),(28.5,27),(28.7,26),(28.9,24),(29.1,27),(29.5,59),(29.9,31),(30.1,29),(30.3,26),(30.5,30),(30.7,28),(30.9,24),(31.1,26),(31.3,30),(31.5,27),(31.7,23),(31.9,24),(32.15,29),(32.4,66),(32.65,32),(32.85,51),(33.1,31),(33.35,54),(33.65,34),(34.05,39),(34.4,24),(34.65,26),(34.9,22),(35.15,21),(35.4,26),(35.6,23),(35.8,19),(36.0,21),(36.2,24),(36.5,22),(36.7,18),(36.9,20),(37.1,24),(37.3,22),(37.5,25),(37.7,30),(38.05,400),(38.45,34),(38.8,21),(39.1,19),(39.4,24),(39.65,22),(39.9,19),(40.1,17),(40.3,23),(40.55,22),(40.8,19),(41.05,17),(41.3,22),(41.5,20),(41.7,18),(41.95,16),(42.2,21),(42.35,20),(42.5,18),(42.7,22),(42.95,26),(43.2,21),(43.4,19),(43.6,17),(43.8,22),(44.05,20),(44.3,17),(44.55,16),(44.8,21),(45.0,23),(45.2,26),(45.45,22),(45.7,19),(45.95,16),(46.2,17),(46.45,21),(46.7,20),(47.0,22),(47.3,26),(47.55,22),(47.8,18),(48.1,17),(48.3,21),(48.5,24),(48.7,20),(48.9,17),(49.15,15),(49.4,18),(49.65,21),(49.9,22),(50.2,19),(50.5,30),(50.85,250),(51.2,20),(51.4,13),(51.6,10),(51.85,8),(52.1,7),(52.3,10),(52.5,9),(52.75,6),(53.0,7),(53.25,10),(53.5,8),(53.75,5),(54.0,6),(54.25,9),(54.5,7),(54.75,4),(55.0,5),(55.25,8),(55.5,7),(55.75,4),(56.0,5),(56.25,8),(56.5,8),(56.75,11),(57.0,10),(57.2,8),(57.4,6),(57.6,9),(57.8,7),(58.0,4),(58.2,6),(58.45,12),(58.75,164),(59.05,5),(59.25,6),(59.5,3),(59.75,6),(60.0,4)]

# ---- styling ----
COL_7D = "#4a5cf0"
COL_3D = "#f03a55"
COL_1D = "#1e1e1e"
LBL = dict(fontsize=8.5, fontweight="bold", ha="center", va="center")


def fig_xy(px, py):
    return px / W, 1 - py / H


def make_axes(fig, left, right, bottom, top, xlabel_py):
    x0, y0 = fig_xy(left, bottom)
    ax = fig.add_axes([x0, y0, (right - left) / W, (bottom - top) / H])
    ax.set_xlim(10, 60)
    ax.set_ylim(0, bottom - top)
    for s in ("left", "right", "top"):
        ax.spines[s].set_visible(False)
    ax.spines["bottom"].set_linewidth(1.3)
    ax.set_yticks([])
    ax.xaxis.set_major_locator(MultipleLocator(10))
    ax.xaxis.set_minor_locator(MultipleLocator(5))
    ax.tick_params(axis="x", which="major", direction="out", length=4.5, width=1.1, pad=2.5,
                   labelsize=8.5)
    ax.tick_params(axis="x", which="minor", direction="out", length=2.5, width=1)
    for t in ax.get_xticklabels():
        t.set_fontweight("bold")
    ax.set_xlabel("2θ (degrees)", fontsize=8.5, fontweight="bold", va="center")
    ax.xaxis.set_label_coords(0.5, -(xlabel_py - bottom) / (bottom - top))
    ax.patch.set_alpha(0)
    return ax


def plot_traces(ax, t1, t3, t7):
    for trace, col in ((t7, COL_7D), (t1, COL_1D), (t3, COL_3D)):
        xs = [p[0] for p in trace]
        ys = [p[1] for p in trace]
        ax.plot(xs, ys, color=col, lw=0.8)


def put_labels(ax, labels):
    for s, x, y in labels:
        ax.text(x, y, s, **LBL)


def put_days(ax, days):
    for s, x, y in days:
        ax.text(x, y, s, fontsize=8.5, fontweight="bold", ha="left", va="center", clip_on=False)


def legend_line(fig, code, px, dash_px, py, name):
    fig.text(*fig_xy(px, py), code, fontsize=9, fontweight="bold", ha="left", va="center")
    fig.text(*fig_xy(dash_px, py), "- " + name, fontsize=9, ha="left", va="center")


def letter_box(fig, letter, x0, y0, x1, y1):
    fx, fy = fig_xy(x0, y1)
    fig.add_artist(Rectangle((fx, fy), (x1 - x0) / W, (y1 - y0) / H, transform=fig.transFigure,
                             facecolor="white", edgecolor="#9a9a9a", lw=1.0))
    fig.text(*fig_xy((x0 + x1) / 2, (y0 + y1) / 2 + 1), letter, fontsize=16, fontweight="bold",
             ha="center", va="center")


fig = plt.figure(figsize=(W / 100, H / 100), dpi=100)

# ---------------- Panel A ----------------
ax = make_axes(fig, 19, 388, 276, 0, 307)
plot_traces(ax, a_1d, a_3d, a_7d)
put_labels(ax, [
    ("G", 13.66, 201), ("G", 20.0, 204), ("G", 27.97, 270), ("CSH", 30.2, 251), ("G", 32.9, 262),
    ("G", 34.6, 258), ("G", 34.0, 247), ("G", 35.9, 220), ("G", 45.6, 205), ("G", 47.3, 214),
    ("G", 53.4, 198), ("G", 54.7, 190),
    ("G", 27.9, 185), ("G", 32.9, 177), ("G", 34.4, 174), ("G", 33.5, 163), ("G", 35.7, 138),
    ("G", 45.6, 123), ("G", 47.3, 135), ("G", 53.1, 119), ("G", 54.6, 114), ("G", 13.9, 121),
    ("G", 20.0, 126),
    ("Tn", 32.4, 110), ("Tn", 33.7, 89), ("G", 34.4, 73), ("G", 27.9, 74), ("Tn", 38.0, 72),
    ("Sc", 37.9, 59), ("G", 35.8, 46), ("Tn", 45.3, 53), ("G", 45.3, 40), ("G", 47.4, 44),
    ("G", 19.9, 35), ("G", 13.9, 28),
])
put_days(ax, [("7 days", 7.97, 179), ("3 days", 7.56, 104), ("1 day", 7.97, 21)])
legend_line(fig, "G", 21, 34, 6, "Gaylussite")
legend_line(fig, "Tn", 15, 33, 22, "Thermonatrite")
legend_line(fig, "Sc", 15, 33, 37, r"Na$_2$CO$_3$")
letter_box(fig, "A", 362, 1, 380, 32)

# ---------------- Panel C ----------------
ax = make_axes(fig, 448, 794, 283, 28, 316)
plot_traces(ax, c_1d, c_3d, c_7d)
put_labels(ax, [
    ("G", 14.05, 187), ("B", 19.5, 241), ("G", 20.1, 189), ("CSH", 29.65, 245), ("C", 29.65, 232),
    ("G", 28.05, 221), ("G", 33.1, 218), ("G", 34.4, 203), ("G", 36.0, 195), ("B", 39.5, 244),
    ("G", 41.4, 173), ("C", 42.95, 171), ("G", 45.7, 175), ("G", 47.6, 181), ("B", 51.9, 235),
    ("G", 53.35, 166), ("G", 54.8, 164), ("B", 59.85, 224),
    ("B", 19.5, 150), ("G", 13.9, 119), ("G", 19.95, 120), ("G", 28.1, 143), ("C", 29.5, 140),
    ("G", 33.0, 145), ("G", 34.4, 139), ("G", 35.7, 122), ("B", 39.2, 145), ("B", 51.9, 137),
    ("B", 59.7, 129), ("G", 41.1, 108), ("C", 43.1, 103), ("G", 45.7, 105), ("G", 47.4, 109),
    ("G", 53.35, 103), ("G", 54.9, 101),
    ("B", 19.5, 81), ("G", 13.75, 42), ("G", 20.1, 41), ("G", 28.05, 63), ("C", 29.8, 61),
    ("Tn", 32.4, 80), ("Tn", 34.1, 65), ("G", 34.4, 51), ("G", 36.0, 40), ("B", 39.2, 74),
    ("G", 41.5, 31), ("C", 43.1, 29), ("Tn", 45.55, 30), ("G", 45.4, 43), ("G", 47.6, 35),
    ("B", 51.9, 67), ("G", 53.2, 20), ("G", 54.9, 24), ("B", 59.7, 59),
])
ax.annotate("G", xy=(32.6, 37), xytext=(32.6, 13), fontsize=8.5, ha="center", va="center",
            arrowprops=dict(arrowstyle="-|>", color="#555555", lw=0.7, mutation_scale=5,
                            shrinkA=4, shrinkB=0))
put_days(ax, [("7 days", 7.83, 174), ("3 days", 8.12, 103), ("1 day", 8.7, 26)])
legend_line(fig, "G", 441, 454, 6, "Gaylussite")
legend_line(fig, "C", 551, 564, 6, "Calcite")
legend_line(fig, "Tn", 437, 455, 21, "Thermonatrite")
legend_line(fig, "B", 440, 452, 36, "Brucite")
letter_box(fig, "C", 759, 15, 777, 43)

# ---------------- Panel B ----------------
ax = make_axes(fig, 19, 390, 683, 395, 717)
plot_traces(ax, b_1d, b_3d, b_7d)
put_labels(ax, [
    ("B", 18.67, 234), ("G", 13.5, 171), ("G", 20.15, 175), ("G", 28.1, 215), ("CSH", 30.35, 205),
    ("G", 33.05, 209), ("G", 34.3, 198), ("G", 36.05, 179), ("B", 39.3, 251), ("G", 45.95, 164),
    ("G", 47.7, 167), ("B", 51.1, 201), ("G", 57.2, 196), ("B", 59.0, 179), ("G", 53.35, 157),
    ("G", 54.8, 154),
    ("G", 28.0, 146), ("G", 32.9, 152), ("G", 34.1, 139), ("B", 19.5, 137), ("G", 13.85, 107),
    ("G", 20.0, 106), ("G", 35.75, 117), ("B", 39.1, 133), ("G", 45.7, 104), ("G", 47.3, 105),
    ("B", 51.2, 131), ("G", 53.35, 98), ("G", 54.9, 95), ("B", 59.0, 114),
    ("B", 19.5, 68), ("G", 13.5, 30), ("G", 20.1, 36), ("G", 27.9, 71), ("Tn", 32.45, 80),
    ("Tn", 33.85, 67), ("G", 34.5, 56), ("G", 35.8, 40), ("B", 38.95, 68), ("G", 45.3, 46),
    ("Tn", 45.4, 31), ("G", 47.5, 37), ("B", 51.25, 63), ("G", 53.1, 29), ("G", 55.0, 25),
    ("B", 59.0, 47),
])
put_days(ax, [("7 days", 7.84, 156), ("3 days", 7.7, 90), ("1 day", 7.98, 21)])
legend_line(fig, "G", 7, 23, 399, "Gaylussite")
legend_line(fig, "C", 133, 149, 397, "Calcite")
legend_line(fig, "Tn", 4, 22, 415, "Thermonatrite")
legend_line(fig, "B", 7, 19, 432, "Brucite")
letter_box(fig, "B", 363, 403, 383, 433)

# ---------------- Panel D ----------------
ax = make_axes(fig, 448, 796, 684, 429, 717)
plot_traces(ax, d_1d, d_3d, d_7d)
put_labels(ax, [
    ("B", 19.96, 246), ("CSH", 29.5, 243), ("C", 29.5, 230), ("G", 28.0, 202), ("G", 32.95, 213),
    ("G", 34.2, 196), ("G", 36.15, 182), ("B", 39.65, 242), ("G", 13.75, 193), ("G", 20.2, 190),
    ("G", 39.65, 170), ("G", 41.4, 165), ("C", 43.1, 171), ("G", 45.6, 165), ("C", 47.55, 185),
    ("G", 47.65, 173), ("G", 48.85, 167), ("B", 52.2, 227), ("G", 53.05, 160), ("G", 54.7, 159),
    ("B", 60.0, 229),
    ("B", 19.6, 152), ("G", 14.0, 116), ("G", 19.95, 116), ("G", 27.9, 131), ("C", 29.7, 142),
    ("G", 32.95, 145), ("G", 34.5, 130), ("G", 35.7, 102), ("B", 39.35, 143), ("G", 39.6, 101),
    ("G", 41.3, 97), ("C", 42.95, 102), ("G", 45.5, 97), ("C", 47.55, 117), ("G", 47.65, 105),
    ("G", 48.85, 98), ("B", 51.95, 131), ("G", 53.3, 96), ("G", 54.8, 91), ("B", 59.85, 130),
    ("B", 19.6, 78), ("G", 13.9, 44), ("G", 20.2, 43), ("G", 27.9, 39), ("C", 29.7, 66),
    ("Tn", 32.4, 73), ("Tn", 34.0, 53), ("G", 34.35, 36), ("G", 36.15, 31), ("B", 39.35, 71),
    ("G", 39.6, 24), ("G", 41.5, 22), ("C", 42.95, 28), ("G", 45.25, 27), ("C", 47.55, 39),
    ("G", 47.4, 26), ("G", 48.6, 28), ("B", 51.95, 61), ("B", 59.85, 59),
])
ax.annotate("G", xy=(32.8, 30), xytext=(32.8, 7), fontsize=8.5, ha="center", va="center",
            arrowprops=dict(arrowstyle="-|>", color="#555555", lw=0.7, mutation_scale=5,
                            shrinkA=4, shrinkB=0))
put_days(ax, [("7 days", 7.9, 174), ("3 days", 8.04, 101), ("1 day", 8.13, 33)])
legend_line(fig, "G", 442, 458, 404, "Gaylussite")
legend_line(fig, "C", 563, 578, 403, "Calcite")
legend_line(fig, "Tn", 438, 457, 419, "Thermonatrite")
legend_line(fig, "B", 442, 455, 434, "Brucite")
letter_box(fig, "D", 761, 411, 779, 439)

fig.savefig("out.png", dpi=100)
